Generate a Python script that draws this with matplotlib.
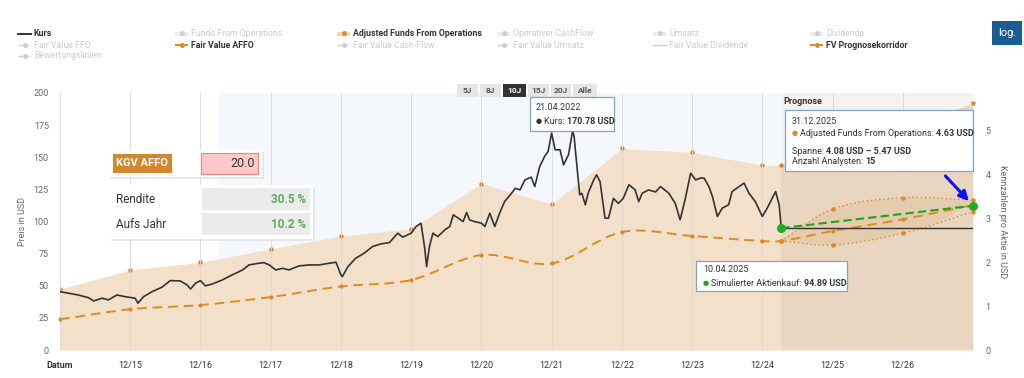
import numpy as np
import matplotlib.pyplot as plt
from matplotlib.path import Path
from matplotlib.patches import PathPatch, Rectangle
from matplotlib.lines import Line2D

plt.rcParams['font.family'] = ['Roboto', 'DejaVu Sans']

# Kurs (Zeit in Dezimaljahren, 2015.0 = 31.12.2014)
kurs_t = [2015.00, 2015.12, 2015.26, 2015.40, 2015.48, 2015.60, 2015.69, 2015.81, 2015.93,
          2016.07, 2016.11, 2016.19, 2016.31, 2016.45, 2016.57, 2016.71, 2016.81, 2016.86,
          2016.93, 2017.00, 2017.07, 2017.17, 2017.31, 2017.45, 2017.60, 2017.69, 2017.83,
          2017.90, 2017.98, 2018.07, 2018.17, 2018.26, 2018.40, 2018.55, 2018.69, 2018.83,
          2018.93, 2019.00, 2019.02, 2019.10, 2019.21, 2019.33, 2019.45, 2019.57, 2019.69,
          2019.81, 2019.88, 2020.00, 2020.07, 2020.14, 2020.19, 2020.22, 2020.26, 2020.31,
          2020.38, 2020.48, 2020.55, 2020.60, 2020.67, 2020.74, 2020.79, 2020.83, 2020.90,
          2021.00, 2021.05, 2021.12, 2021.19, 2021.26, 2021.33, 2021.43, 2021.48, 2021.55,
          2021.62, 2021.71, 2021.76, 2021.83, 2021.90, 2021.95, 2022.00, 2022.05, 2022.12,
          2022.17, 2022.24, 2022.30, 2022.32, 2022.37, 2022.40, 2022.43, 2022.48, 2022.52,
          2022.60, 2022.64, 2022.69, 2022.76, 2022.81, 2022.88, 2022.95, 2023.02, 2023.10,
          2023.19, 2023.24, 2023.29, 2023.38, 2023.48, 2023.55, 2023.67, 2023.76, 2023.83,
          2023.90, 2023.98, 2024.05, 2024.12, 2024.17, 2024.24, 2024.29, 2024.36, 2024.43,
          2024.52, 2024.57, 2024.74, 2024.81, 2024.90, 2025.00, 2025.07, 2025.19, 2025.24,
          2025.27]
kurs_v = [45.4, 44.2, 42.8, 40.8, 38.2, 40.3, 39.0, 42.8, 41.5,
          40.3, 36.4, 41.5, 45.4, 48.8, 54.0, 53.8, 50.6, 47.5,
          52.0, 54.0, 49.9, 51.4, 54.5, 58.4, 62.3, 66.2, 67.5,
          68.0, 66.2, 62.3, 63.6, 62.3, 65.4, 66.2, 66.2, 67.5,
          68.3, 58.4, 57.1, 64.9, 71.4, 75.3, 80.5, 82.6, 83.6,
          90.9, 87.8, 90.9, 96.1, 98.7, 80.5, 64.9, 80.5, 90.9,
          88.3, 93.5, 96.1, 105.2, 102.6, 100.0, 107.0, 101.3, 100.0,
          98.7, 96.1, 106.5, 96.1, 106.5, 115.5, 122.0, 125.8, 124.6,
          132.4, 134.5, 127.2, 142.8, 150.6, 154.5, 168.8, 155.8, 155.8,
          144.1, 151.9, 170.8, 166.2, 137.6, 120.8, 122.0, 113.0, 122.0,
          132.4, 136.3, 131.0, 102.6, 102.6, 118.0, 114.1, 118.0, 128.6,
          124.6, 115.5, 122.0, 124.6, 123.0, 127.2, 122.0, 114.1, 101.3,
          116.9, 137.6, 132.4, 133.8, 133.8, 127.2, 119.4, 103.9, 110.4,
          113.0, 123.3, 129.9, 122.0, 115.5, 103.9, 110.4, 123.3, 113.0,
          94.89]

# Adjusted Funds From Operations (rechte Achse)
affo_t = [2015.0, 2016.0, 2017.0, 2018.0, 2019.0, 2020.0, 2021.0, 2022.0, 2023.0,
          2024.0, 2025.0, 2025.27, 2026.0, 2027.0, 2028.0]
affo_v = [1.39, 1.83, 2.00, 2.31, 2.60, 2.77, 3.80, 3.33, 4.60,
          4.51, 4.22, 4.22, 4.63, 5.08, 5.63]

# Fair Value AFFO (KGV 20)
fv_t = [2015.0, 2016.0, 2017.0, 2018.0, 2019.0, 2020.0, 2021.0, 2022.0, 2023.0,
        2024.0, 2025.0, 2025.27, 2026.0, 2027.0, 2028.0]
fv_v = [23.9, 31.7, 35.0, 41.2, 49.5, 54.5, 73.9, 67.4, 91.8,
        88.7, 84.8, 84.8, 92.6, 101.7, 112.8]

# FV Prognosekorridor
korr_t = [2025.27, 2026.0, 2027.0, 2028.0]
korr_hi = [84.8, 109.7, 118.5, 116.7]
korr_lo = [84.8, 81.7, 90.8, 107.6]

# Simulierter Aktienkauf
sim_t = [2025.27, 2028.0]
sim_v = [94.89, 112.3]

tick_pos = list(range(2015, 2028))
tick_labels = ['Datum', '12/15', '12/16', '12/17', '12/18', '12/19', '12/20',
               '12/21', '12/22', '12/23', '12/24', '12/25', '12/26']

W, H = 1024, 378
ORANGE = '#e08a22'
DOT = '#d98a2c'


def smooth_verts(xs, ys):
    # cubic hermite segments as bezier path (spline look)
    xs = np.asarray(xs, float)
    ys = np.asarray(ys, float)
    n = len(xs)
    m = np.zeros(n)
    for i in range(n):
        if i == 0:
            m[i] = (ys[1] - ys[0]) / (xs[1] - xs[0])
        elif i == n - 1:
            m[i] = (ys[-1] - ys[-2]) / (xs[-1] - xs[-2])
        else:
            m[i] = (ys[i + 1] - ys[i - 1]) / (xs[i + 1] - xs[i - 1])
    verts = [(xs[0], ys[0])]
    codes = [Path.MOVETO]
    for i in range(n - 1):
        h = xs[i + 1] - xs[i]
        verts += [(xs[i] + h / 3, ys[i] + m[i] * h / 3),
                  (xs[i + 1] - h / 3, ys[i + 1] - m[i + 1] * h / 3),
                  (xs[i + 1], ys[i + 1])]
        codes += [Path.CURVE4] * 3
    return verts, codes


def fpx(x, y):
    return x / W, 1 - y / H


def fig_rect(x0, y0, x1, y1, **kw):
    kw.setdefault('zorder', 20)
    fig.add_artist(Rectangle(fpx(x0, y1), (x1 - x0) / W, (y1 - y0) / H,
                             transform=fig.transFigure, **kw))


def fig_text(x, y, s, **kw):
    kw.setdefault('fontsize', 6.5)
    kw.setdefault('va', 'center')
    kw.setdefault('zorder', 21)
    return fig.text(x / W, 1 - y / H, s, **kw)


def text_run(x, y, parts):
    # draw pieces of text one after another (normal / bold)
    r = fig.canvas.get_renderer()
    for s, kw in parts:
        t = fig_text(x, y, s, **kw)
        x += t.get_window_extent(r).width


fig = plt.figure(figsize=(10.24, 3.78), dpi=100)
ax = fig.add_axes([60 / W, 1 - 350 / H, (973 - 60) / W, (350 - 93) / H])
axr = ax.twinx()
ax.set_zorder(2)
axr.set_zorder(1)
ax.patch.set_visible(False)

x_end = affo_t[-1]
# backgrounds
axr.axvspan(2017.27, 2025.27, color='#f4f8fd', zorder=0, lw=0)
axr.fill_between(affo_t, 0, affo_v, color='#f2e0ca', zorder=1, lw=0)
axr.plot(affo_t[:-1], affo_v[:-1], 'o', ms=2.2, color=DOT, zorder=2)
axr.plot(affo_t[-1], affo_v[-1], 'o', ms=2.2, color=DOT, zorder=2, clip_on=False)
axr.set_ylim(0, 200 / 34.09)
axr.set_yticks(range(0, 6))
axr.tick_params(axis='y', length=0, labelsize=6.5, labelcolor='#666666', pad=9)
axr.set_ylabel('Kennzahlen pro Aktie in USD', rotation=270, labelpad=12,
               fontsize=6.5, color='#666666')

ax.axvspan(2025.27, x_end, color='#6e5a46', alpha=0.07, zorder=0.5, lw=0)
ax.text(2025.30, 197, 'Prognose', fontsize=6.5, fontweight='bold', color='#333333',
        va='top', ha='left')

for t in tick_pos:
    ax.axvline(t, color='#d8d8d8', lw=0.6, zorder=0.6)

# corridor
hv, hc = smooth_verts(korr_t, korr_hi)
lv, lc = smooth_verts(korr_t[::-1], korr_lo[::-1])
fill_path = Path(hv + lv[1:] + [hv[0]], hc + lc[1:] + [Path.CLOSEPOLY])
ax.add_patch(PathPatch(fill_path, facecolor='#d9a066', alpha=0.18, lw=0, zorder=1))
for vals in (korr_hi, korr_lo):
    v, c = smooth_verts(korr_t, vals)
    ax.add_patch(PathPatch(Path(v, c), fill=False, edgecolor=DOT, lw=1.0,
                           ls=(0, (1, 2)), zorder=2))
    ax.plot(korr_t, vals, 'o', ms=2.2, color=DOT, zorder=2, clip_on=False)

# fair value AFFO
v, c = smooth_verts(fv_t, fv_v)
ax.add_patch(PathPatch(Path(v, c), fill=False, edgecolor=ORANGE, lw=1.4,
                       ls=(0, (5, 3)), zorder=3))
ax.plot(fv_t, fv_v, 'o', ms=2.0, color=DOT, zorder=3, clip_on=False)

# Kurs
ax.plot(kurs_t, kurs_v, color='#333333', lw=1.2, zorder=4)
ax.plot([sim_t[0], x_end], [sim_v[0], sim_v[0]], color='#333333', lw=1.0, zorder=4)
ax.plot(sim_t, sim_v, color='#1aa51a', lw=1.5, ls=(0, (4, 2)), zorder=5)
ax.plot(sim_t, sim_v, 'o', ms=5.5, color='#22aa22', zorder=6, clip_on=False)
ax.annotate('', xy=(sim_t[1] - 0.03, sim_v[1] + 2), xytext=(2027.58, 137),
            arrowprops=dict(arrowstyle='-|>', color='#1010ee', lw=2.2,
                            mutation_scale=14), zorder=7)

ax.set_xlim(tick_pos[0], x_end)
ax.set_ylim(0, 200)
ax.set_yticks(range(0, 201, 25))
ax.set_xticks(tick_pos)
ax.set_xticklabels(tick_labels)
ax.get_xticklabels()[0].set_fontweight('bold')
ax.tick_params(axis='x', length=0, labelsize=6.5, labelcolor='#333333', pad=8)
ax.tick_params(axis='y', length=0, labelsize=6.5, labelcolor='#666666', pad=8)
ax.set_ylabel('Preis in USD', fontsize=6.5, color='#666666', labelpad=5)
for a in (ax, axr):
    for s in a.spines.values():
        s.set_visible(False)
ax.axhline(0, color='#e0e0e0', lw=0.8, zorder=0.7)

# legend
leg_labels = ['Kurs', 'Funds From Operations', 'Adjusted Funds From Operations',
              'Operativer CashFlow', 'Umsatz', 'Dividende',
              'Fair Value FFO', 'Fair Value AFFO', 'Fair Value Cash-Flow',
              'Fair Value Umsatz', 'Fair Value Dividende', 'FV Prognosekorridor',
              'Bewertungslinien']
leg_active = [True, False, True, False, False, False,
              False, True, False, False, False, True, False]
col_x = [18, 175, 337, 497, 653, 810]
row_y = [34, 45, 56]
for i, lab in enumerate(leg_labels):
    xs = col_x[i % 6]
    ys = row_y[i // 6]
    col = '#333333' if leg_active[i] else '#cccccc'
    fig_text(xs + 16, ys, lab, color=col, fontsize=6.3,
             fontweight='bold' if leg_active[i] else 'normal')
    sc = col
    if lab in ('Fair Value AFFO', 'Adjusted Funds From Operations', 'FV Prognosekorridor'):
        sc = ORANGE
    x0, y0 = fpx(xs, ys)
    x1, _ = fpx(xs + 13, ys)
    if lab in ('Funds From Operations', 'Operativer CashFlow', 'Umsatz', 'Dividende',
               'Adjusted Funds From Operations'):
        fig.add_artist(Rectangle((x0, y0 - 2 / H), 13 / W, 4 / H, color=sc,
                                 alpha=0.35, transform=fig.transFigure, lw=0))
        fig.add_artist(Line2D([(x0 + x1) / 2], [y0 + 1 / H], marker='o', ms=2.5,
                              color=sc, transform=fig.transFigure))
    else:
        ls = '-' if lab in ('Kurs', 'Fair Value Dividende') else (0, (3, 1.5))
        fig.add_artist(Line2D([x0, x1], [y0, y0], color=sc, lw=1.4 if leg_active[i] else 1.0,
                              ls=ls, transform=fig.transFigure))
        if lab not in ('Kurs', 'Fair Value Dividende'):
            fig.add_artist(Line2D([(x0 + x1) / 2], [y0], marker='o', ms=2.5, color=sc,
                                  transform=fig.transFigure))

# log. button
fig_rect(992, 21, 1022, 45, facecolor='#1d5b93', lw=0)
fig_text(1007, 33, 'log.', color='white', fontsize=8, ha='center')

# range selector
btn_labels = ['5J', '8J', '10J', '15J', '20J', 'Alle']
btn_x = [457, 480, 503, 528, 551, 573]
btn_w = [21, 21, 23, 21, 20, 24]
for lab, bx, bw in zip(btn_labels, btn_x, btn_w):
    sel = lab == '10J'
    fig_rect(bx, 84, bx + bw, 97, facecolor='#333333' if sel else '#e6e6e6', lw=0)
    fig_text(bx + bw / 2, 90.5, lab, ha='center', fontsize=6, fontweight='bold',
             color='white' if sel else '#555555')

# KGV AFFO box
fig_rect(110, 152, 264, 179, facecolor='#dddddd', lw=0, alpha=0.6)
fig_rect(108, 150, 262, 177, facecolor='white', lw=0)
fig_rect(113, 154, 172, 173, facecolor='#d4872c', lw=0)
fig_text(142.5, 163.5, 'KGV AFFO', ha='center', color='white', fontsize=8, fontweight='bold')
fig_rect(201, 153, 258, 174, facecolor='#ffc9c9', edgecolor='#f08080', lw=0.8)
fig_text(255, 163.5, '20.0', ha='right', color='#333333', fontsize=9)

# Rendite box
fig_rect(111, 187, 315, 241, facecolor='#dddddd', lw=0, alpha=0.6)
fig_rect(109, 185, 313, 239, facecolor='white', lw=0)
fig_rect(202, 188, 310, 210, facecolor='#ebebeb', lw=0)
fig_rect(202, 213, 310, 235, facecolor='#ebebeb', lw=0)
fig_text(116, 199, 'Rendite', color='#333333', fontsize=8.5)
fig_text(116, 224, 'Aufs Jahr', color='#333333', fontsize=8.5)
fig_text(306, 199, '30.5 %', ha='right', color='#5fae5b', fontsize=8.5, fontweight='bold')
fig_text(306, 224, '10.2 %', ha='right', color='#5fae5b', fontsize=8.5, fontweight='bold')

# tooltips
TB = '#7fa3c6'
dark = dict(color='#333333')
bold = dict(color='#333333', fontweight='bold')
fig_rect(530, 97, 614, 131, facecolor='white', edgecolor=TB, lw=0.9)
fig_text(536, 107, '21.04.2022', **dark)
text_run(536, 121, [('\u25cf ', dict(color='#333333', fontsize=5)), ('Kurs: ', dark),
                    ('170.78 USD', bold)])

fig_rect(785, 110, 973, 171, facecolor='white', edgecolor=TB, lw=0.9)
fig_text(792, 121, '31.12.2025', **dark)
text_run(792, 134, [('\u25cf ', dict(color=DOT, fontsize=5)),
                    ('Adjusted Funds From Operations: ', dark), ('4.63 USD', bold)])
text_run(792, 151, [('Spanne: ', dark), ('4.08 USD \u2013 5.47 USD', bold)])
text_run(792, 162, [('Anzahl Analysten: ', dark), ('15', bold)])

fig_rect(696, 261, 847, 291, facecolor='white', edgecolor=TB, lw=0.9)
fig_text(703, 270, '10.04.2025', **dark)
text_run(703, 284, [('\u25cf ', dict(color='#22aa22', fontsize=5)),
                    ('Simulierter Aktienkauf: ', dark), ('94.89 USD', bold)])

plt.savefig('out.png', dpi=100)
